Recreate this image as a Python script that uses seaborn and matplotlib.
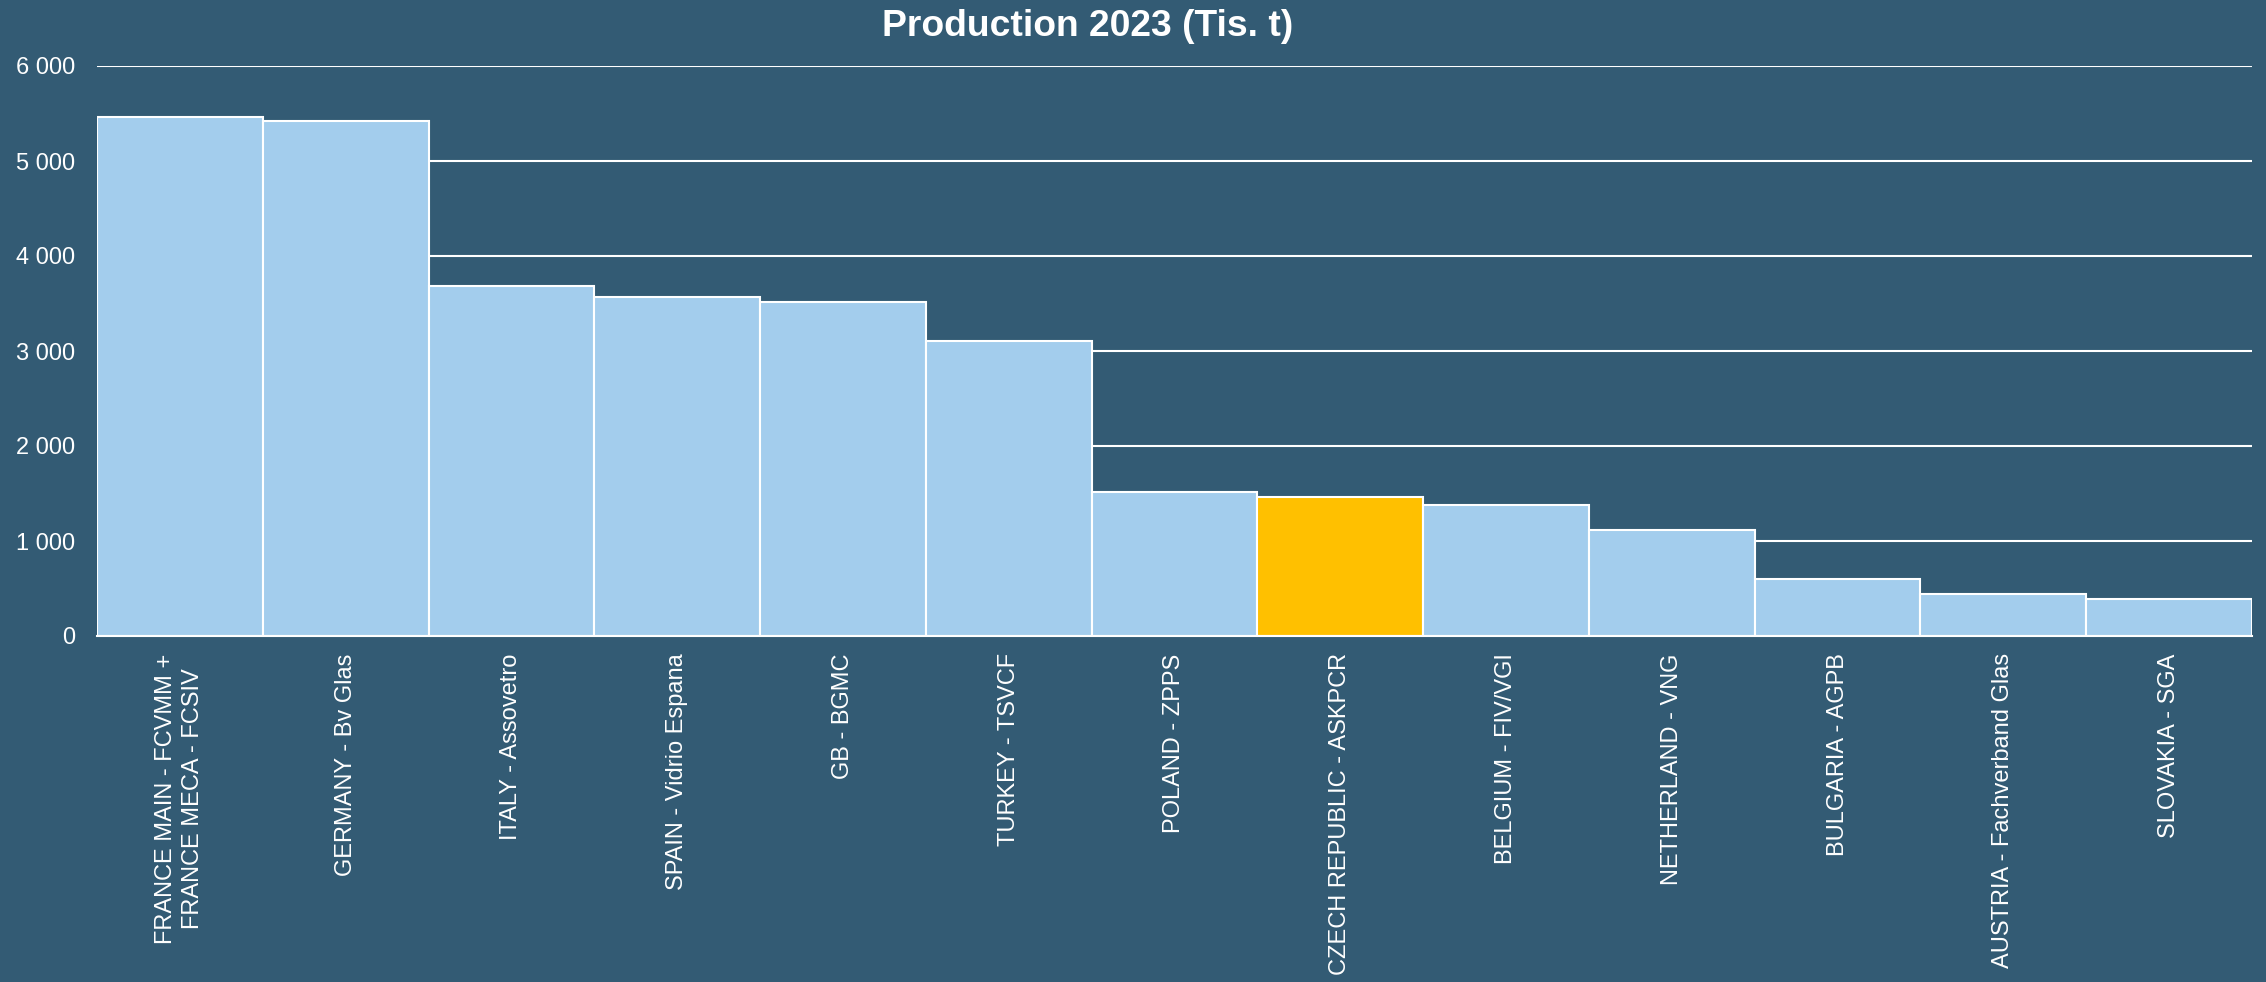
import matplotlib
matplotlib.use("Agg")
import matplotlib.pyplot as plt
import matplotlib.ticker as mticker
import seaborn as sns
import pandas as pd

categories = [
    "FRANCE MAIN - FCVMM +\nFRANCE MECA - FCSIV",
    "GERMANY - Bv Glas",
    "ITALY - Assovetro",
    "SPAIN - Vidrio Espana",
    "GB - BGMC",
    "TURKEY - TSVCF",
    "POLAND - ZPPS",
    "CZECH REPUBLIC - ASKPCR",
    "BELGIUM - FIV/VGI",
    "NETHERLAND - VNG",
    "BULGARIA - AGPB",
    "AUSTRIA - Fachverband Glas",
    "SLOVAKIA - SGA",
]
values = [5460, 5417, 3684, 3572, 3512, 3102, 1513, 1460, 1376, 1116, 597, 439, 393]
highlight = "CZECH REPUBLIC - ASKPCR"
yticks = [0, 1000, 2000, 3000, 4000, 5000, 6000]
title = "Production 2023 (Tis. t)"

BG = "#335B74"
BAR = "#A3CDED"
HL = "#FFC000"

sns.set_theme(style="white")
plt.rcParams["font.family"] = ["Liberation Sans", "DejaVu Sans"]

df = pd.DataFrame({"cat": categories, "val": values})
palette = {c: (HL if c == highlight else BAR) for c in categories}

fig = plt.figure(figsize=(22.66, 9.82), dpi=100, facecolor=BG)
ax = fig.add_axes([97 / 2266, 1 - 636 / 982, (2252 - 97) / 2266, (636 - 66) / 982])
ax.set_facecolor(BG)

sns.barplot(data=df, x="cat", y="val", hue="cat", palette=palette, legend=False,
            width=1.0, edgecolor="white", linewidth=1.5, saturation=1, ax=ax, zorder=3)

ax.set_xlim(-0.5, len(categories) - 0.5)
ax.set_ylim(0, 6000)
ax.set_yticks(yticks)
ax.yaxis.set_major_formatter(mticker.FuncFormatter(lambda v, p: f"{int(v):,}".replace(",", " ")))
ax.grid(axis="y", color="white", linewidth=1.5, zorder=0)
ax.set_axisbelow(True)
for s in ["top", "right", "left"]:
    ax.spines[s].set_visible(False)
ax.spines["bottom"].set_color("white")
ax.spines["bottom"].set_linewidth(1.5)
ax.spines["bottom"].set_zorder(4)
ax.set_xlabel("")
ax.set_ylabel("")
ax.tick_params(axis="y", length=0, pad=16, labelsize=17, labelcolor="white")
ax.tick_params(axis="x", length=0, pad=12.5, labelsize=17, labelcolor="white")
for lab in ax.get_xticklabels():
    lab.set_rotation(90)
    lab.set_ha("center")
    lab.set_va("top")
    lab.set_multialignment("center")
    lab.set_linespacing(1.3)

fig.text(1088 / 2266, 1 - 36 / 982, title, ha="center", va="baseline",
         fontsize=26.8, fontweight="bold", color="white")

fig.savefig("out.png", dpi=100, facecolor=BG)
